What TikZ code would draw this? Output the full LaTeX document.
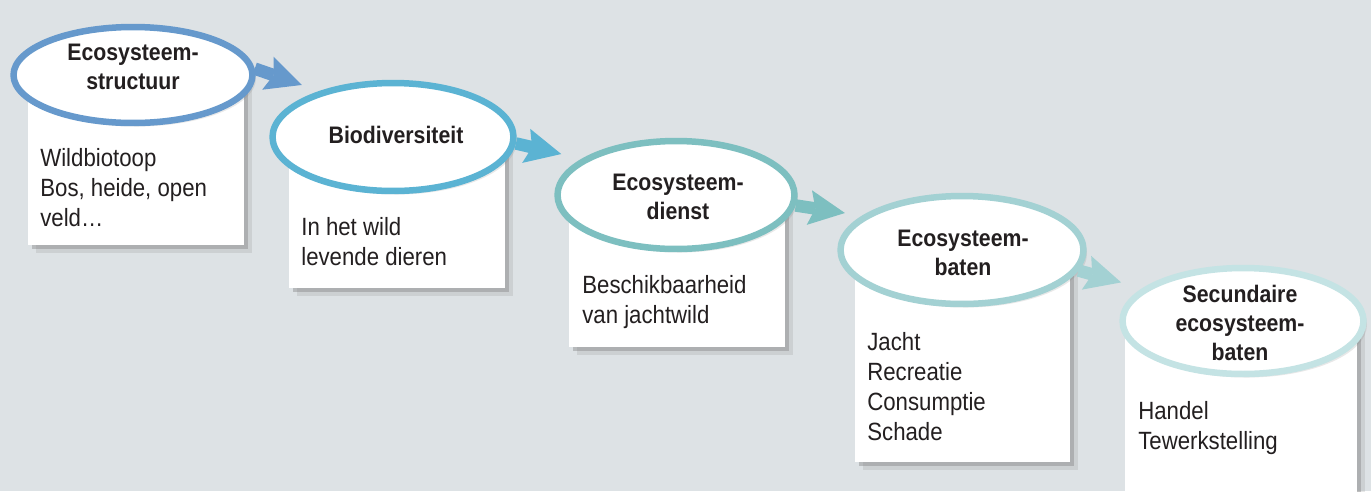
\documentclass[tikz,border=0pt]{standalone}
\usepackage{fontspec}
\setmainfont{Liberation Sans}[FakeStretch=0.89]
\usepackage{xcolor}
\usepackage{tikz}
\usetikzlibrary{arrows.meta}
\usetikzlibrary{shadows}
\usepgflibrary{shapes.geometric}

\definecolor{bgcol}{RGB}{221,226,229}
\definecolor{ink}{RGB}{35,31,32}
\definecolor{cone}{RGB}{102,153,204}
\definecolor{ctwo}{RGB}{91,179,211}
\definecolor{cthree}{RGB}{125,191,192}
\definecolor{cfour}{RGB}{163,209,211}
\definecolor{cfive}{RGB}{196,227,228}

\tikzset{
  boxshadow/.style={drop shadow={shadow xshift=2pt, shadow yshift=-2pt, opacity=.40, fill=black!50},
                    drop shadow={shadow xshift=4.5pt, shadow yshift=-4.5pt, opacity=.18, fill=black!50}},
  ringshadow/.style={drop shadow={shadow xshift=2pt, shadow yshift=-2pt, opacity=.18, fill=black!50}},
}

\begin{document}
\begin{tikzpicture}[x=0.02cm, y=-0.02cm, line join=round, >=Stealth,
    infobox/.style={rectangle, fill=white, anchor=north west, inner sep=0pt, boxshadow},
    ring/.style={ellipse, draw, fill=white, line width=0.13cm, inner sep=0pt, ringshadow},
    titletext/.style={font=\fontsize{13.6}{16.5}\selectfont\bfseries, align=center, text=ink, inner sep=0pt},
    bodytext/.style={font=\fontsize{14.2}{17}\selectfont, align=left, anchor=north west, text=ink, inner sep=0pt},
    flow/.style={line width=0.25cm, -{Stealth[length=0.72cm, width=0.7cm, inset=0.12cm, line width=0pt]}}]
  \useasboundingbox (0,0) rectangle (1371,491);
  \clip (0,0) rectangle (1371,491);
  \fill[bgcol] (0,0) rectangle (1371,491);
  %--- boxes
    \node[infobox, minimum width=4.32cm, minimum height=3.30cm] (b1) at (28,80) {};
    \node[infobox, minimum width=4.32cm, minimum height=3.02cm] (b2) at (289,137) {};
    \node[infobox, minimum width=4.32cm, minimum height=3.04cm] (b3) at (569,195) {};
    \node[infobox, minimum width=4.30cm, minimum height=4.24cm] (b4) at (855,250) {};
    \node[infobox, minimum width=4.64cm, minimum height=3.98cm] (b5) at (1125,321) {};
  %--- ellipses
    \node[ring, draw=cone,   minimum width=4.78cm, minimum height=1.92cm] (e1) at (133,75) {};
    \node[ring, draw=ctwo,   minimum width=4.82cm, minimum height=2.16cm] (e2) at (393,137) {};
    \node[ring, draw=cthree, minimum width=4.74cm, minimum height=2.16cm] (e3) at (676,195) {};
    \node[ring, draw=cfour,  minimum width=4.86cm, minimum height=2.16cm] (e4) at (962,250) {};
    \node[ring, draw=cfive,  minimum width=4.82cm, minimum height=2.12cm] (e5) at (1243,321) {};
  %--- arrows
    \draw[flow, cone,   shorten >=0.37cm] (e1.3) -- (e2.148);
    \draw[flow, ctwo,   shorten >=0.42cm] (e2.-3) -- (e3.159);
    \draw[flow, cthree, shorten >=0.35cm] (e3.-5) -- (e4.161);
    \draw[flow, cfour,  shorten >=0.44cm] (e4.-10) -- (e5.162);
  %--- titles
    \node[titletext] (t1) at (133,67) {Ecosysteem-\\structuur};
    \node[titletext] (t2) at (396,135) {Biodiversiteit};
    \node[titletext] (t3) at (678,197) {Ecosysteem-\\dienst};
    \node[titletext] (t4) at (963,253) {Ecosysteem-\\baten};
    \node[titletext] (t5) at (1240,323) {Secundaire\\ecosysteem-\\baten};
  %--- contents
    \node[bodytext] (d1) at (40,148) {Wildbiotoop\\Bos, heide, open\\veld…};
    \node[bodytext] (d2) at (301,217) {In het wild\\levende dieren};
    \node[bodytext] (d3) at (582,275) {Beschikbaarheid\\van jachtwild};
    \node[bodytext] (d4) at (867,332) {Jacht\\Recreatie\\Consumptie\\Schade};
    \node[bodytext] (d5) at (1138,401) {Handel\\Tewerkstelling};
\end{tikzpicture}
\end{document}
